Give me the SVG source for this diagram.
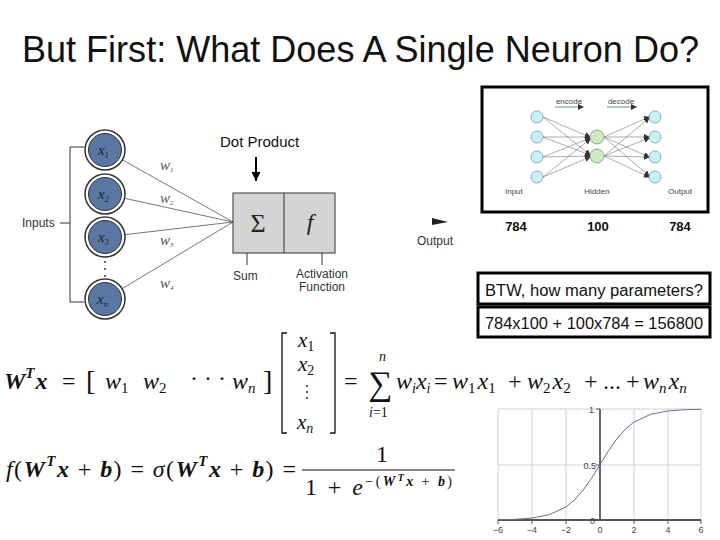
<svg xmlns="http://www.w3.org/2000/svg" width="720" height="540" viewBox="0 0 720 540">
<defs>
<style>
.title{font-family:"Liberation Sans",Arial,sans-serif;font-size:36px;fill:#111}
.cal{font-family:"Liberation Sans",Arial,sans-serif;fill:#111}
.lab{font-family:"Liberation Sans",Arial,sans-serif;font-size:12px;fill:#333}
.var{font-family:"Liberation Serif","Times New Roman",serif;font-style:italic;fill:#222}
.m{font-family:"Liberation Serif","Times New Roman",serif;font-size:24px;fill:#111}
.mi{font-style:italic}
.mb{font-style:italic;font-weight:bold}
.wire{stroke:#555;stroke-width:0.8;fill:none}
.ring{fill:#fff;stroke:#333;stroke-width:1.5}
.core{fill:#5a76a3;stroke:#333;stroke-width:1}
.ae{stroke:#777;stroke-width:0.6;fill:none;marker-end:url(#ah)}
.inN{fill:#c9f1f9;stroke:#7a9aa0;stroke-width:0.8}
.hidN{fill:#ccebc2;stroke:#7a9a80;stroke-width:0.8}
.ael{font-family:"Liberation Sans",Arial,sans-serif;font-size:8px;fill:#444}
.grid{stroke:#c8c8c8;stroke-width:0.8}
.tick{font-family:"Liberation Sans",Arial,sans-serif;font-size:9px;fill:#444}
.box{fill:#fff;stroke:#000;stroke-width:3}
</style>
<marker id="ah" markerWidth="6" markerHeight="6" refX="5" refY="3" orient="auto" markerUnits="userSpaceOnUse">
<path d="M0,0 L6,3 L0,6 z" fill="#333"/>
</marker>
<marker id="darr" markerWidth="10" markerHeight="10" refX="5" refY="9" orient="0" markerUnits="userSpaceOnUse">
<path d="M0.5,0 L5,9 L9.5,0 z" fill="#000"/>
</marker>
</defs>
<rect width="720" height="540" fill="#fff"/>

<text class="title" x="22" y="62" textLength="677" lengthAdjust="spacingAndGlyphs">But First: What Does A Single Neuron Do?</text>

<g id="connectors">
<line class="wire" x1="105" y1="150" x2="233" y2="222"/>
<line class="wire" x1="105" y1="194" x2="233" y2="222"/>
<line class="wire" x1="105" y1="237" x2="233" y2="222"/>
<line class="wire" x1="105" y1="299" x2="233" y2="222"/>
<path d="M84,147 H70 V302 H84 M60,223 H70" stroke="#333" stroke-width="1" fill="none"/>
<line x1="256" y1="157" x2="256" y2="181" stroke="#000" stroke-width="2" marker-end="url(#darr)"/>
<line x1="247" y1="253" x2="247" y2="265" stroke="#333" stroke-width="1"/>
<line x1="322" y1="253" x2="322" y2="265" stroke="#333" stroke-width="1"/>
<path d="M432,218 L448,222 L432,225 z" fill="#222"/>
</g>

<g id="inputs-label"><text class="lab" x="22" y="227">Inputs</text></g>

<g id="x1"><circle class="ring" cx="105" cy="150" r="20"/><circle class="core" cx="105" cy="150" r="16.5"/><text class="var" x="98" y="155" font-size="15">x<tspan font-size="8" dy="3">1</tspan></text></g>
<g id="x2"><circle class="ring" cx="105" cy="194" r="20"/><circle class="core" cx="105" cy="194" r="16.5"/><text class="var" x="98" y="199" font-size="15">x<tspan font-size="8" dy="3">2</tspan></text></g>
<g id="x3"><circle class="ring" cx="105" cy="237" r="20"/><circle class="core" cx="105" cy="237" r="16.5"/><text class="var" x="98" y="242" font-size="15">x<tspan font-size="8" dy="3">3</tspan></text></g>
<g id="vdots"><circle cx="105" cy="262" r="1" fill="#333"/><circle cx="105" cy="269" r="1" fill="#333"/><circle cx="105" cy="276" r="1" fill="#333"/></g>
<g id="xn"><circle class="ring" cx="105" cy="299" r="20"/><circle class="core" cx="105" cy="299" r="16.5"/><text class="var" x="97" y="304" font-size="15">x<tspan font-size="8" dy="3">n</tspan></text></g>

<g id="weights" class="var" font-size="15">
<text x="160" y="170" fill="#555">w<tspan font-size="7" dy="2">1</tspan></text>
<text x="160" y="203" fill="#555">w<tspan font-size="7" dy="2">2</tspan></text>
<text x="160" y="245" fill="#555">w<tspan font-size="7" dy="2">3</tspan></text>
<text x="160" y="288" fill="#555">w<tspan font-size="7" dy="2">4</tspan></text>
</g>

<g id="dot-product"><text class="cal" x="220" y="147" font-size="15">Dot Product</text></g>

<g id="neuron-box">
<rect x="233" y="193" width="102" height="60" fill="#d4d4d4" stroke="#333" stroke-width="1"/>
<line x1="284" y1="193" x2="284" y2="253" stroke="#333" stroke-width="1"/>
<text x="258" y="232" font-family="Liberation Serif,serif" font-size="26" text-anchor="middle" fill="#222">Σ</text>
<text x="310" y="230" class="var" font-size="24" text-anchor="middle">f</text>
<text class="lab" x="233" y="280">Sum</text>
<text class="lab" x="322" y="278" text-anchor="middle">Activation</text>
<text class="lab" x="322" y="291" text-anchor="middle">Function</text>
</g>

<g id="output-label"><text class="lab" x="417" y="245">Output</text></g>

<g id="autoencoder">
<rect x="482" y="87" width="226" height="125" fill="#fff" stroke="#000" stroke-width="3"/>
<text class="ael" x="569" y="104" text-anchor="middle">encode</text>
<line x1="555" y1="107" x2="583" y2="107" stroke="#6a8ab0" stroke-width="1" marker-end="url(#ah)"/>
<text class="ael" x="621" y="104" text-anchor="middle">decode</text>
<line x1="607" y1="107" x2="636" y2="107" stroke="#6a8ab0" stroke-width="1" marker-end="url(#ah)"/>
<g>
<line class="ae" x1="543" y1="117" x2="590" y2="137"/><line class="ae" x1="543" y1="117" x2="590" y2="155"/>
<line class="ae" x1="543" y1="137" x2="590" y2="137"/><line class="ae" x1="543" y1="137" x2="590" y2="155"/>
<line class="ae" x1="543" y1="157" x2="590" y2="138"/><line class="ae" x1="543" y1="157" x2="590" y2="156"/>
<line class="ae" x1="543" y1="177" x2="590" y2="139"/><line class="ae" x1="543" y1="177" x2="590" y2="157"/>
<line class="ae" x1="604" y1="137" x2="649" y2="117"/><line class="ae" x1="604" y1="137" x2="649" y2="137"/>
<line class="ae" x1="604" y1="137" x2="649" y2="157"/><line class="ae" x1="604" y1="137" x2="649" y2="176"/>
<line class="ae" x1="604" y1="156" x2="649" y2="118"/><line class="ae" x1="604" y1="156" x2="649" y2="138"/>
<line class="ae" x1="604" y1="156" x2="649" y2="157"/><line class="ae" x1="604" y1="156" x2="649" y2="177"/>
</g>
<circle class="inN" cx="537" cy="117" r="6"/><circle class="inN" cx="537" cy="137" r="6"/><circle class="inN" cx="537" cy="157" r="6"/><circle class="inN" cx="537" cy="177" r="6"/>
<circle class="hidN" cx="597" cy="137" r="7"/><circle class="hidN" cx="597" cy="156" r="7"/>
<circle class="inN" cx="655" cy="117" r="6"/><circle class="inN" cx="655" cy="137" r="6"/><circle class="inN" cx="655" cy="157" r="6"/><circle class="inN" cx="655" cy="177" r="6"/>
<text class="ael" x="505" y="194">Input</text>
<text class="ael" x="597" y="194" text-anchor="middle">Hidden</text>
<text class="ael" x="668" y="194">Output</text>
</g>

<g id="layer-sizes" class="cal" font-size="13" font-weight="bold">
<text x="516" y="231" text-anchor="middle">784</text>
<text x="598" y="231" text-anchor="middle">100</text>
<text x="680" y="231" text-anchor="middle">784</text>
</g>

<g id="btw-box"><rect class="box" x="478" y="273" width="232" height="31"/><text class="cal" x="594" y="296" font-size="16" text-anchor="middle" textLength="218" lengthAdjust="spacingAndGlyphs">BTW, how many parameters?</text></g>
<g id="answer-box"><rect class="box" x="478" y="307" width="232" height="30"/><text class="cal" x="594" y="329" font-size="16" text-anchor="middle" textLength="218" lengthAdjust="spacingAndGlyphs">784x100 + 100x784 = 156800</text></g>

<g id="equation-dot" class="m">
<text x="4" y="389"><tspan class="mb">W</tspan><tspan font-size="15" dy="-11" class="mb">T</tspan><tspan class="mb" dy="11" dx="1">x</tspan></text>
<text x="62" y="389">=</text>
<text x="86" y="390" font-size="28">[</text>
<text x="105" y="389" class="mi">w<tspan font-size="15" dy="4" font-style="normal">1</tspan></text>
<text x="143" y="389" class="mi">w<tspan font-size="15" dy="4" font-style="normal">2</tspan></text>
<text x="190" y="386">· · ·</text>
<text x="232" y="389" class="mi">w<tspan font-size="15" dy="4">n</tspan></text>
<text x="263" y="390" font-size="28">]</text>
<path d="M287,333 H282 V433 H287 M330,333 H335 V433 H330" stroke="#111" stroke-width="1.3" fill="none"/>
<text x="298" y="347" class="mi" font-size="21">x<tspan font-size="14" dy="4" font-style="normal">1</tspan></text>
<text x="298" y="371" class="mi" font-size="21">x<tspan font-size="14" dy="4" font-style="normal">2</tspan></text>
<circle cx="307" cy="386" r="0.9" fill="#111"/><circle cx="307" cy="392" r="0.9" fill="#111"/><circle cx="307" cy="398" r="0.9" fill="#111"/>
<text x="297" y="429" class="mi" font-size="21">x<tspan font-size="14" dy="4">n</tspan></text>
<text x="344" y="389">=</text>
<text x="368" y="395" font-size="34">∑</text>
<text x="379" y="361" font-size="14" class="mi">n</text>
<text x="369" y="417" font-size="14"><tspan class="mi">i</tspan>=1</text>
<text x="396" y="389" class="mi">w<tspan font-size="14" dy="4">i</tspan><tspan dy="-4">x</tspan><tspan font-size="14" dy="4">i</tspan></text>
<text x="434" y="389">=</text>
<text x="452" y="389" class="mi">w<tspan font-size="15" dy="4" font-style="normal">1</tspan><tspan dy="-4" dx="2">x</tspan><tspan font-size="15" dy="4" font-style="normal">1</tspan></text>
<text x="508" y="389">+</text>
<text x="527" y="389" class="mi">w<tspan font-size="15" dy="4" font-style="normal">2</tspan><tspan dy="-4" dx="2">x</tspan><tspan font-size="15" dy="4" font-style="normal">2</tspan></text>
<text x="584" y="389">+</text>
<text x="603" y="389">...</text>
<text x="626" y="389">+</text>
<text x="643" y="389" class="mi">w<tspan font-size="15" dy="4">n</tspan><tspan dy="-4" dx="2">x</tspan><tspan font-size="15" dy="4">n</tspan></text>
</g>

<g id="equation-activation" class="m">
<text x="6" y="477" textLength="290" lengthAdjust="spacing"><tspan class="mi">f</tspan>(<tspan class="mb">W</tspan><tspan font-size="15" dy="-11" class="mb">T</tspan><tspan class="mb" dy="11">x</tspan> + <tspan class="mb">b</tspan>) = <tspan class="mi">σ</tspan>(<tspan class="mb">W</tspan><tspan font-size="15" dy="-11" class="mb">T</tspan><tspan class="mb" dy="11">x</tspan> + <tspan class="mb">b</tspan>) =</text>
<line x1="302" y1="470" x2="455" y2="470" stroke="#111" stroke-width="1"/>
<text x="376" y="462">1</text>
<text x="305" y="495" textLength="147" lengthAdjust="spacing">1 + <tspan class="mi">e</tspan><tspan font-size="14" dy="-9">−(<tspan class="mb">W</tspan><tspan font-size="10" dy="-5" class="mb">T</tspan><tspan class="mb" dy="5">x</tspan> + <tspan class="mb">b</tspan>)</tspan></text>
</g>

<g id="sigmoid-plot">
<line class="grid" x1="498" y1="409" x2="701" y2="409"/>
<line class="grid" x1="498" y1="465" x2="701" y2="465"/>
<line class="grid" x1="498" y1="409" x2="498" y2="520"/>
<line class="grid" x1="532" y1="409" x2="532" y2="520"/>
<line class="grid" x1="566" y1="409" x2="566" y2="520"/>
<line class="grid" x1="634" y1="409" x2="634" y2="520"/>
<line class="grid" x1="668" y1="409" x2="668" y2="520"/>
<line class="grid" x1="701" y1="409" x2="701" y2="520"/>
<line x1="600" y1="409" x2="600" y2="520" stroke="#555" stroke-width="1.8"/>
<line x1="498" y1="520" x2="701" y2="520" stroke="#555" stroke-width="1.8"/>
<path d="M596,409 H600 M596,465 H600 M596,520 H600 M498,520 V524 M532,520 V524 M566,520 V524 M634,520 V524 M668,520 V524 M701,520 V524" stroke="#555" stroke-width="1"/>
<polyline fill="none" stroke="#6b6b9b" stroke-width="1" points="498.6,519.7 515.5,519.3 532.4,518 549.3,514.7 566.2,506.8 574.7,499.8 583.1,490.2 591.6,478.1 600,464.5 608.5,450.9 616.9,438.8 625.4,429.2 633.8,422.2 650.7,414.3 667.6,411 684.5,409.7 701.4,409.3"/>
<text class="tick" x="594" y="413" text-anchor="end">1</text>
<text class="tick" x="596" y="469" text-anchor="end">0.5</text>
<text class="tick" x="595" y="524" text-anchor="end">0</text>
<text class="tick" x="498" y="533" text-anchor="middle">−6</text>
<text class="tick" x="532" y="533" text-anchor="middle">−4</text>
<text class="tick" x="566" y="533" text-anchor="middle">−2</text>
<text class="tick" x="600" y="533" text-anchor="middle">0</text>
<text class="tick" x="634" y="533" text-anchor="middle">2</text>
<text class="tick" x="668" y="533" text-anchor="middle">4</text>
<text class="tick" x="701" y="533" text-anchor="middle">6</text>
</g>
</svg>
